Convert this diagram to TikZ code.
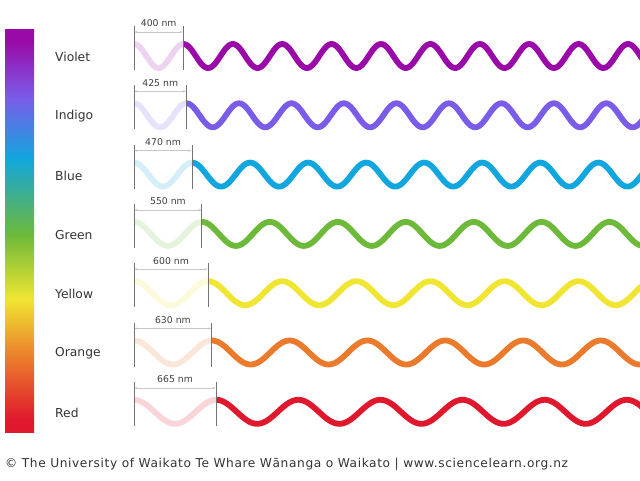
\documentclass[tikz,border=0pt]{standalone}
\usepackage{fontspec}
\setmainfont{DejaVu Sans}
\usetikzlibrary{arrows.meta}

\definecolor{cviolet}{HTML}{9A0AA8}
\definecolor{cindigo}{HTML}{7B5CE8}
\definecolor{cblue}{HTML}{12A6DE}
\definecolor{cgreen}{HTML}{6DB93A}
\definecolor{cyellow}{HTML}{F0E632}
\definecolor{corange}{HTML}{EB7A2C}
\definecolor{cred}{HTML}{E0182E}

\pgfdeclareverticalshading{spectrum}{100bp}{%
  color(0bp)=(cred); color(26.5bp)=(cred); color(34bp)=(corange);
  color(41.5bp)=(cyellow); color(49.5bp)=(cgreen); color(59bp)=(cblue);
  color(66.5bp)=(cindigo); color(73.5bp)=(cviolet); color(100bp)=(cviolet)}

\begin{document}
\begin{tikzpicture}[x=1pt, y=-1pt,
    colname/.style={anchor=west, inner sep=0pt, font=\fontsize{12.3}{14}\selectfont, text=black!80},
    widthlabel/.style={font=\fontsize{9.3}{10}\selectfont, text=black!75},
    dimbar/.style={black!55, line width=0.9pt},
    dimline/.style={black!22, line width=0.6pt, {Stealth[length=3pt]}-{Stealth[length=3pt]}},
    wave/.style={line width=5.8pt}]

\clip (0,0) rectangle (640,480);
\fill[white] (0,0) rectangle (640,480);

% ---- spectrum bar ----
\shade[shading=spectrum] (5,29) rectangle (34,432);

% ---- one row per colour: name, first period with its width, wave ----
\foreach \name/\col/\nm/\i in {Violet/cviolet/400/0, Indigo/cindigo/425/1,
    Blue/cblue/470/2, Green/cgreen/550/3, Yellow/cyellow/600/4,
    Orange/corange/630/5, Red/cred/665/6} {
  \pgfmathsetmacro{\rowy}{56+59.3*\i}
  \pgfmathsetmacro{\per}{0.1235*\nm}

  \node[colname] (name\i) at (55,\rowy+1) {\name};

  \draw[wave, \col!18, domain=0:\per, samples=40, smooth]
    plot ({134+\x}, {\rowy-12*cos(\x/\per*360)});
  \draw[wave, \col, domain=\per:520, samples=320, smooth]
    plot ({134+\x}, {\rowy-12*cos(\x/\per*360)});

  \draw[dimbar] (134,\rowy-30) -- (134,\rowy+14);
  \draw[dimbar] (134+\per,\rowy-30) -- (134+\per,\rowy+14);
  \coordinate (dimL\i) at (134.5,\rowy-24);
  \coordinate (dimR\i) at (133.5+\per,\rowy-24);
  \draw[dimline] (dimL\i) -- (dimR\i);
  \node[widthlabel] (nm\i) at (134+\per/2,\rowy-32.5) {\nm\ nm};
}

% ---- credit line ----
\node[anchor=west, font=\fontsize{12.2}{14}\selectfont\addfontfeatures{LetterSpace=5}, text=black!80, inner sep=0pt]
  (credit) at (5,464) {© The University of Waikato Te Whare Wānanga o Waikato | www.sciencelearn.org.nz};

\end{tikzpicture}
\end{document}
